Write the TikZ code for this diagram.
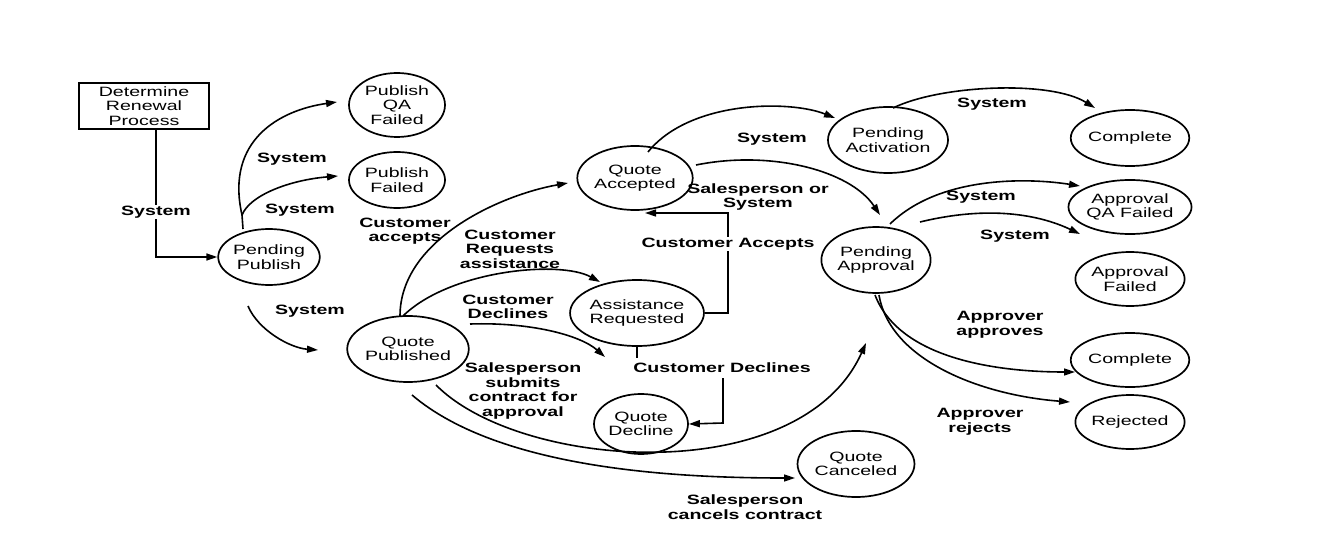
\documentclass[tikz,border=0pt]{standalone}
\usepackage{fontspec}
\setmainfont{Liberation Sans}[FakeStretch=1.45]
\usetikzlibrary{arrows.meta,shapes.geometric}
\begin{document}
\begin{tikzpicture}[x=1pt,y=-1pt,
  st/.style={draw,line width=1.7pt,ellipse,minimum width=2*#1,minimum height=62pt,inner sep=0pt,align=center,font=\fontsize{13.5}{14.5}\selectfont},
  st/.default=50pt,
  lb/.style={font=\fontsize{13.5}{14.5}\selectfont\bfseries,align=center,inner sep=1pt},
  ar/.style={line width=1.6pt,-{Triangle[length=11pt,width=7pt]}},
  ln/.style={line width=1.6pt}]
\useasboundingbox (0,0) rectangle (1324,553);
\node[draw,line width=1.7pt,minimum width=130pt,minimum height=45pt,align=center,font=\fontsize{13.5}{14.5}\selectfont] (det) at (144,106) {Determine\\Renewal\\Process};
\node[st=48pt,minimum height=64pt] (pqa) at (397,105) {Publish\\QA\\Failed};
\node[st=48pt,minimum height=56pt] (pf) at (397,180) {Publish\\Failed};
\node[st,minimum height=56pt] (pp) at (269,257) {Pending\\Publish};
\node[st=52pt,minimum height=66pt] (qp) at (408,349) {Quote\\Published};
\node[st=48pt,minimum height=64pt] (qa) at (635,178) {Quote\\Accepted};
\node[st=55pt,minimum height=66pt] (asr) at (637,313) {Assistance\\Requested};
\node[st=47pt,minimum height=60pt] (qd) at (641,424) {Quote\\Decline};
\node[st=55pt,minimum height=66pt] (pa) at (888,140) {Pending\\Activation};
\node[st,minimum height=66pt] (pap) at (876,260) {Pending\\Approval};
\node[st,minimum height=56pt] (c1) at (1130,138) {Complete};
\node[st,minimum height=54pt] (aqf) at (1130,207) {Approval\\QA Failed};
\node[st,minimum height=54pt] (af) at (1130,279) {Approval\\Failed};
\node[st,minimum height=54pt] (c2) at (1130,360) {Complete};
\node[st,minimum height=54pt] (rej) at (1130,422) {Rejected};
\node[st=55pt,minimum height=66pt] (qc) at (856,464) {Quote\\Canceled};
% coordinates
\coordinate (d0) at (156,128.5);
\coordinate (a0) at (243,229);
\coordinate (a1) at (242,215);
\coordinate (e1) at (337,102);
\coordinate (e2) at (338,176);
\coordinate (s3) at (248,306); \coordinate (e3) at (318,350);
\coordinate (q0) at (400,316);
\coordinate (q1) at (403,316);
\coordinate (e4) at (568,183);
\coordinate (e5) at (600,282);
\coordinate (s6) at (470,324); \coordinate (e6) at (605,357);
\coordinate (k1) at (728,313); \coordinate (k2) at (728,213); \coordinate (e7) at (645,213);
\coordinate (d1) at (637,358); \coordinate (d2) at (723,378); \coordinate (d3) at (723,423);
\coordinate (s8) at (436,385); \coordinate (e8) at (866,343);
\coordinate (s9) at (412,395); \coordinate (e9) at (795,478);
\coordinate (s10) at (648,152); \coordinate (e10) at (835,118);
\coordinate (s11) at (696,165); \coordinate (e11) at (880,215);
\coordinate (p0) at (893,108);
\coordinate (e12) at (1095,108);
\coordinate (s13) at (890,224); \coordinate (e13) at (1080,186);
\coordinate (s14) at (920,222); \coordinate (e14) at (1080,234);
\coordinate (s15) at (875,295); \coordinate (e15) at (1075,372);
\coordinate (s16) at (879,295); \coordinate (e16) at (1070,402);
% connectors
\draw[ar] (d0) |- (pp.west);
\draw[ln] (a0) -- (a1);
\draw[ar] (a1) .. controls (225,140) and (280,110) .. (e1);
\draw[ar] (a1) .. controls (250,195) and (290,180) .. (e2);
\draw[ar] (s3) .. controls (258,330) and (290,348) .. (e3);
\draw[ar] (q0) .. controls (400,240) and (500,195) .. (e4);
\draw[ar] (q1) .. controls (450,270) and (560,260) .. (e5);
\draw[ar] (s6) .. controls (530,322) and (580,335) .. (e6);
\draw[ar] (asr.east) -- (k1) -- (k2) -- (e7);
\draw[ln] (asr.south) -- (d1);
\draw[ar] (d2) -- (d3) -- (qd.east);
\draw[ar] (s8) .. controls (520,470) and (800,490) .. (e8);
\draw[ar] (s9) .. controls (500,470) and (680,478) .. (e9);
\draw[ar] (s10) .. controls (690,100) and (790,100) .. (e10);
\draw[ar] (s11) .. controls (770,150) and (850,170) .. (e11);
\draw[ar] (p0) .. controls (940,85) and (1050,80) .. (e12);
\draw[ar] (s13) .. controls (940,175) and (1030,178) .. (e13);
\draw[ar] (s14) .. controls (990,205) and (1040,215) .. (e14);
\draw[ar] (s15) .. controls (900,360) and (1000,372) .. (e15);
\draw[ar] (s16) .. controls (890,360) and (980,395) .. (e16);
% labels
\node[lb,fill=white] at (156,212) {System};
\node[lb] at (292,159) {System};
\node[lb] at (300,210) {System};
\node[lb] at (405,231) {Customer\\accepts};
\node[lb] at (310,311) {System};
\node[lb] at (510,249) {Customer\\Requests\\assistance};
\node[lb] at (508,307) {Customer\\Declines};
\node[lb] at (523,391) {Salesperson\\submits\\contract for\\approval};
\node[lb] at (772,139) {System};
\node[lb] at (758,197) {Salesperson or\\System};
\node[lb,fill=white] at (728,244) {Customer Accepts};
\node[lb,fill=white] at (722,368) {Customer Declines};
\node[lb] at (745,507) {Salesperson\\cancels contract};
\node[lb] at (992,104) {System};
\node[lb] at (981,197) {System};
\node[lb] at (1015,236) {System};
\node[lb] at (1000,325) {Approver\\approves};
\node[lb] at (980,422) {Approver\\rejects};
\end{tikzpicture}
\end{document}
